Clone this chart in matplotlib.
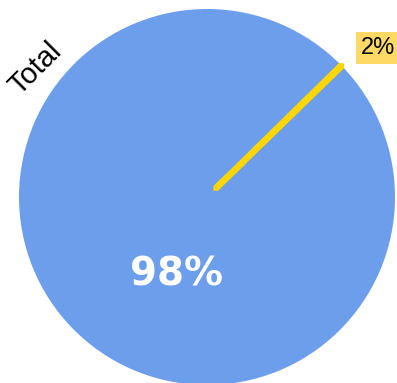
import matplotlib.pyplot as plt

# slice shares as drawn (the yellow slice is only a sliver) and their printed labels
shares = [99.9, 0.1]
share_labels = ["98%", "2%"]
slice_colors = ["#6d9eeb", "#ffd600"]
series_name = "Total"

W, H = 397, 383
fig = plt.figure(figsize=(W / 100, H / 100), dpi=100)
ax = fig.add_axes([0, 0, 1, 1])

cx, cy, r = 207, H - 197, 188
wedges, _ = ax.pie(
    shares,
    colors=slice_colors,
    startangle=44.5,
    center=(cx, cy),
    radius=r,
    wedgeprops={"linewidth": 0},
)

# yellow sliver: draw as a thick stroke that starts a bit off centre
sliver = wedges[1]
sliver.set_width(r - 12)
sliver.set_edgecolor(slice_colors[1])
sliver.set_linewidth(4.4)
sliver.set_joinstyle("bevel")

ax.set_xlim(0, W)
ax.set_ylim(0, H)
ax.set_aspect("equal")
ax.axis("off")

ax.text(176, H - 275, share_labels[0], color="white", fontsize=28,
        fontweight="bold", family="DejaVu Sans", ha="center", va="center")
ax.text(378, H - 48, share_labels[1], color="black", fontsize=17,
        family="Liberation Sans", ha="center", va="center",
        bbox={"boxstyle": "square,pad=0.2", "facecolor": "#ffd966", "edgecolor": "none"})
ax.text(36, H - 69, series_name, color="black", fontsize=21,
        family="Liberation Sans", ha="center", va="center", rotation=45,
        rotation_mode="anchor")

fig.savefig("out.png", dpi=100)
